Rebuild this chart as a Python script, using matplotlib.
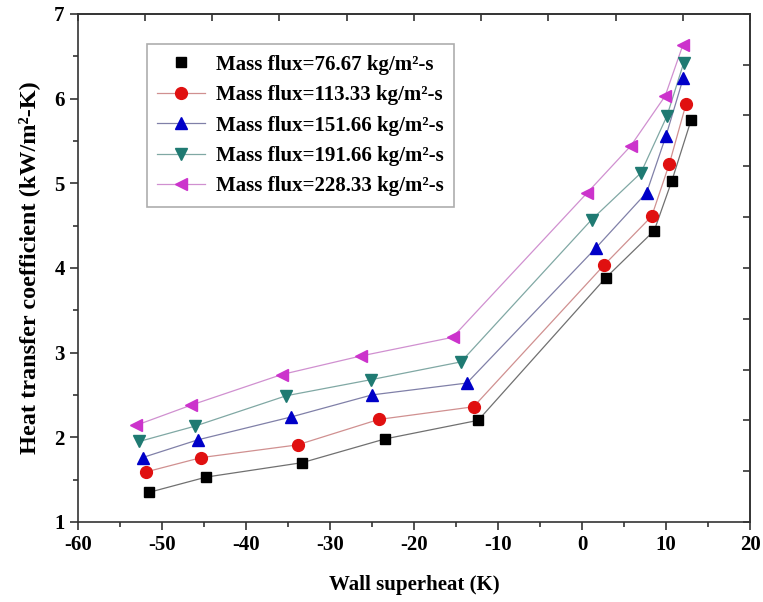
import numpy as np
import matplotlib
matplotlib.use("Agg")
import matplotlib.pyplot as plt
from matplotlib.ticker import MultipleLocator, NullFormatter

plt.rcParams["font.family"] = ["Liberation Serif", "DejaVu Serif"]
plt.rcParams["font.weight"] = "bold"
plt.rcParams["axes.unicode_minus"] = False

# wall superheat (K) and heat transfer coefficient (kW/m2-K) per mass flux
labels = ["Mass flux=76.67 kg/m²-s", "Mass flux=113.33 kg/m²-s",
          "Mass flux=151.66 kg/m²-s", "Mass flux=191.66 kg/m²-s",
          "Mass flux=228.33 kg/m²-s"]
x_7667 = [-51.5, -44.7, -33.3, -23.45, -12.35, 2.8, 8.6, 10.7, 13.0]
h_7667 = [1.35, 1.53, 1.70, 1.98, 2.20, 3.88, 4.44, 5.03, 5.75]
x_11333 = [-51.9, -45.3, -33.85, -24.2, -12.9, 2.6, 8.3, 10.4, 12.4]
h_11333 = [1.59, 1.76, 1.91, 2.21, 2.36, 4.03, 4.61, 5.23, 5.94]
x_15166 = [-52.3, -45.7, -34.6, -25.0, -13.7, 1.7, 7.7, 10.0, 12.05]
h_15166 = [1.76, 1.97, 2.24, 2.50, 2.64, 4.24, 4.89, 5.56, 6.24]
x_19166 = [-52.7, -46.1, -35.2, -25.1, -14.4, 1.15, 7.0, 10.1, 12.1]
h_19166 = [1.95, 2.13, 2.49, 2.68, 2.89, 4.57, 5.12, 5.79, 6.42]
x_22833 = [-53.1, -46.5, -35.75, -26.3, -15.4, 0.56, 5.8, 9.9, 12.0]
h_22833 = [2.14, 2.38, 2.74, 2.96, 3.18, 4.88, 5.44, 6.03, 6.63]

xs = [x_7667, x_11333, x_15166, x_19166, x_22833]
hs = [h_7667, h_11333, h_15166, h_19166, h_22833]
markers = ["s", "o", "^", "v", "<"]
sizes = [7, 8.5, 8.5, 8.5, 8.5]
face = ["black", "#e01010", "#0000c8", "#1f7a72", "#cc33cc"]
line_c = ["#707070", "#d09090", "#8080a8", "#80a8a4", "#d090d0"]

fig = plt.figure(figsize=(7.63, 6.02), dpi=100)
ax = fig.add_axes([0.102, 0.133, 0.881, 0.844])

for i in range(5):
    ax.plot(xs[i], hs[i], color=line_c[i], lw=0.9, zorder=2)
    ax.plot(xs[i], hs[i], ls="none", marker=markers[i], ms=sizes[i],
            mfc=face[i], mec=face[i], zorder=3)

# legend proxies: first entry is marker only
handles = []
for i in range(5):
    h, = ax.plot([], [], color=line_c[i], lw=0.9 if i else 0,
                 marker=markers[i], ms=sizes[i], mfc=face[i], mec=face[i])
    handles.append(h)
leg = ax.legend(handles, labels, loc="upper left",
                bbox_to_anchor=(0.103, 0.94),
                prop={"weight": "bold", "size": 15},
                frameon=True, fancybox=False, edgecolor="#999999",
                handlelength=2.3, handletextpad=0.5, labelspacing=0.5,
                borderpad=0.5, borderaxespad=0)
leg.get_frame().set_linewidth(1.2)

ax.set_xlim(-60, 20)
ax.set_ylim(1, 7)
ax.xaxis.set_major_locator(MultipleLocator(10))
ax.xaxis.set_minor_locator(MultipleLocator(5))
ax.yaxis.set_major_locator(MultipleLocator(1))
ax.yaxis.set_minor_locator(MultipleLocator(0.5))
ax.tick_params(which="both", direction="out", width=1.2, color="#333333",
               labelsize=15, top=False, right=False)
ax.tick_params(which="major", length=6)
ax.tick_params(which="minor", length=3.5)
for s in ax.spines.values():
    s.set_linewidth(1.2)
    s.set_color("#333333")

# unlabelled inner ticks on the opposite frame
top = ax.secondary_xaxis("top")
top.set_xticks(np.arange(-60, 20.1, 8))
top.xaxis.set_major_formatter(NullFormatter())
top.tick_params(direction="in", length=5, width=1.2, color="#333333")
right = ax.secondary_yaxis("right")
right.set_yticks(np.arange(1, 7.01, 0.6))
right.yaxis.set_major_formatter(NullFormatter())
right.tick_params(direction="in", length=5, width=1.2, color="#333333")
for sec in (top, right):
    for s in sec.spines.values():
        s.set_linewidth(1.2)
        s.set_color("#333333")

ax.set_xlabel("Wall superheat (K)", fontsize=15, fontweight="bold",
              labelpad=14)
ax.set_ylabel("Heat transfer coefficient (kW/m²-K)", fontsize=17.5,
              fontweight="bold", labelpad=10)

fig.savefig("out.png", dpi=100)
